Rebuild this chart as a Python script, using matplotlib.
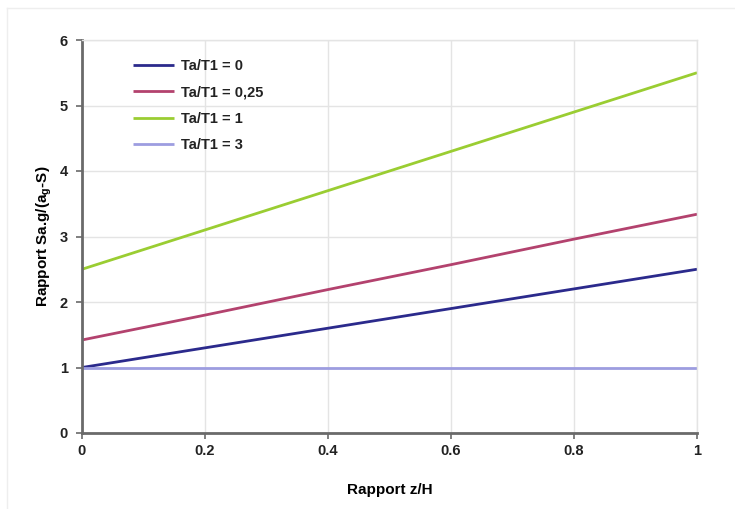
import matplotlib
matplotlib.use("Agg")
import matplotlib.pyplot as plt
from matplotlib.lines import Line2D

plt.rcParams['font.family'] = ['Liberation Sans', 'DejaVu Sans']
plt.rcParams['mathtext.fontset'] = 'custom'
plt.rcParams['mathtext.rm'] = 'Liberation Sans:bold'
plt.rcParams['mathtext.it'] = 'Liberation Sans:bold'

# z/H positions
z_h = [0, 0.2, 0.4, 0.6, 0.8, 1.0]

# Sa.g/(ag.S) for each Ta/T1
ratio_0 = [1.0, 1.3, 1.6, 1.9, 2.2, 2.5]
ratio_025 = [1.42, 1.80, 2.19, 2.57, 2.96, 3.34]
ratio_1 = [2.5, 3.1, 3.7, 4.3, 4.9, 5.5]
ratio_3 = [1.0, 1.0, 1.0, 1.0, 1.0, 1.0]

series_labels = ['Ta/T1 = 0', 'Ta/T1 = 0,25', 'Ta/T1 = 1', 'Ta/T1 = 3']
colors = ['#2b2a8c', '#b3426e', '#9acd32', '#9d9de0']

x_ticks = [0, 0.2, 0.4, 0.6, 0.8, 1]
x_tick_labels = ['0', '0.2', '0.4', '0.6', '0.8', '1']
y_ticks = [0, 1, 2, 3, 4, 5, 6]

fig = plt.figure(figsize=(7.35, 5.09), dpi=100)
ax = fig.add_axes([82 / 735, 1 - 433 / 509, 615 / 735, 393 / 509])

for ys, lab, c in zip([ratio_0, ratio_025, ratio_1, ratio_3], series_labels, colors):
    ax.plot(z_h, ys, color=c, lw=2, label=lab, solid_capstyle='butt')

ax.set_xlim(0, 1)
ax.set_ylim(0, 6)
ax.set_xticks(x_ticks)
ax.set_xticklabels(x_tick_labels)
ax.set_yticks(y_ticks)
ax.grid(True, color='#e4e4e4', lw=1)
ax.set_axisbelow(True)

for s in ['top', 'right']:
    ax.spines[s].set_color('#e4e4e4')
    ax.spines[s].set_linewidth(1)
for s in ['left', 'bottom']:
    ax.spines[s].set_color('#6a6a6a')
    ax.spines[s].set_linewidth(2)

ax.tick_params(axis='both', colors='#6a6a6a', width=1.2, length=4,
               labelcolor='#222222', labelsize=10.5)
ax.tick_params(axis='x', pad=4)
ax.tick_params(axis='y', pad=6)
for t in ax.get_xticklabels() + ax.get_yticklabels():
    t.set_fontweight('bold')

ax.set_xlabel('Rapport z/H', fontsize=11, fontweight='bold', labelpad=18)
ax.set_ylabel('Rapport Sa.g/(a$_{g}$-S)', fontsize=11, fontweight='bold', labelpad=4)

leg = ax.legend(loc='upper left', bbox_to_anchor=(0.062, 0.985), frameon=False,
                fontsize=10.5, handlelength=2.8, handletextpad=0.45, labelspacing=0.85)
for t in leg.get_texts():
    t.set_fontweight('bold')
    t.set_color('#222222')

# faint outer frame on top and left
fig.add_artist(Line2D([7 / 735, 7 / 735], [0, 1 - 8 / 509], transform=fig.transFigure, color='#eeeeee', lw=1))
fig.add_artist(Line2D([7 / 735, 1], [1 - 8 / 509, 1 - 8 / 509], transform=fig.transFigure, color='#eeeeee', lw=1))

fig.savefig('out.png', dpi=100)
